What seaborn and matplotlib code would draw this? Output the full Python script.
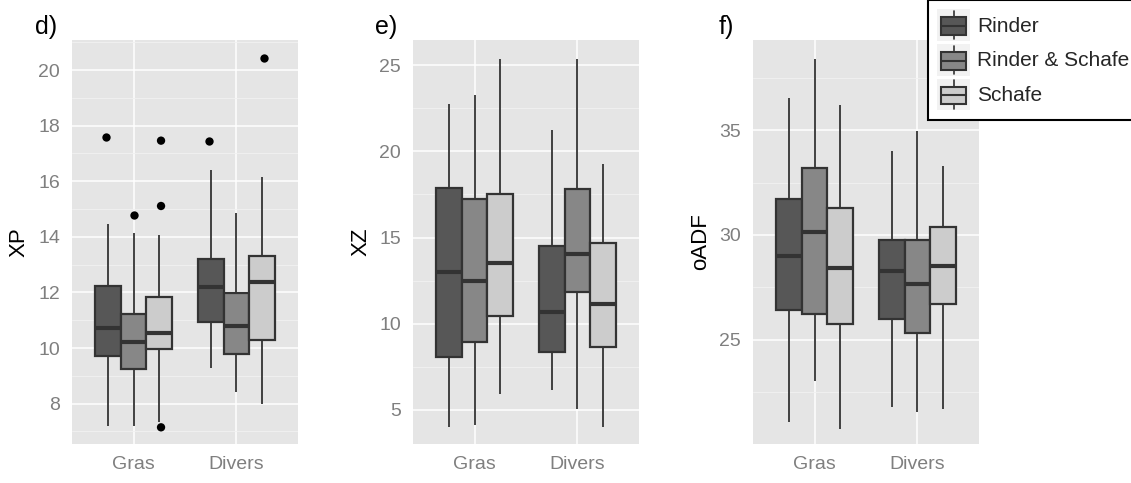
import numpy as np
import pandas as pd
import matplotlib
matplotlib.use('Agg')
import matplotlib.pyplot as plt
import seaborn as sns
from matplotlib.legend_handler import HandlerBase
from matplotlib.patches import Rectangle
from matplotlib.lines import Line2D
from matplotlib.ticker import MultipleLocator

futter = ['Gras', 'Divers']
tiere = ['Rinder', 'Rinder & Schafe', 'Schafe']
farben = ['#575757', '#878787', '#CCCCCC']

# five-number summaries (min, q1, median, q3, max), one per tier
xp_gras = [[7.21, 9.70, 10.71, 12.24, 14.45],
           [7.21, 9.25, 10.23, 11.24, 14.13],
           [7.35, 9.95, 10.54, 11.82, 14.07]]
xp_divers = [[9.27, 10.95, 12.18, 13.21, 16.40],
             [8.41, 9.79, 10.81, 11.97, 14.87],
             [7.98, 10.29, 12.38, 13.31, 16.15]]
xp_ausreisser_futter = ['Gras', 'Gras', 'Gras', 'Gras', 'Gras', 'Divers', 'Divers']
xp_ausreisser_tier = ['Rinder', 'Rinder & Schafe', 'Schafe', 'Schafe', 'Schafe', 'Rinder', 'Schafe']
xp_ausreisser_wert = [17.60, 14.80, 17.46, 15.11, 7.15, 17.43, 20.43]

xz_gras = [[4.00, 8.06, 12.97, 17.86, 22.76],
           [4.13, 8.93, 12.49, 17.22, 23.26],
           [5.91, 10.42, 13.51, 17.50, 25.37]]
xz_divers = [[6.16, 8.38, 10.69, 14.50, 21.25],
             [5.04, 11.83, 14.05, 17.80, 25.35],
             [4.00, 8.67, 11.13, 14.69, 19.27]]

adf_gras = [[21.09, 26.40, 28.99, 31.70, 36.56],
            [23.04, 26.21, 30.12, 33.21, 38.40],
            [20.76, 25.73, 28.40, 31.27, 36.23]]
adf_divers = [[21.81, 25.97, 28.27, 29.77, 34.03],
              [21.56, 25.33, 27.66, 29.75, 34.98],
              [21.71, 26.71, 28.51, 30.39, 33.29]]


def to_long(gras, divers):
    rows = []
    for f, stats in zip(futter, [gras, divers]):
        for t, werte in zip(tiere, stats):
            for w in werte:
                rows.append({'Futter': f, 'Tier': t, 'Wert': w})
    return pd.DataFrame(rows)


class BoxKey(HandlerBase):
    def create_artists(self, legend, orig_handle, xdescent, ydescent, width, height, fontsize, trans):
        x0, y0 = -xdescent, -ydescent
        bg = Rectangle((x0, y0), width, height, facecolor='#F2F2F2', edgecolor='none', transform=trans)
        cx, cy = x0 + width / 2, y0 + height * 0.47
        whisker = Line2D([cx, cx], [y0 + height * 0.05, y0 + height * 0.95], color='#333333', lw=1.2, transform=trans)
        box = Rectangle((x0 + width * 0.1, y0 + height * 0.19), width * 0.8, height * 0.56,
                        facecolor=orig_handle.get_facecolor(), edgecolor='#333333', lw=1.5, transform=trans)
        med = Line2D([x0 + width * 0.1, x0 + width * 0.9], [cy, cy], color='#333333', lw=1.5, transform=trans)
        return [bg, whisker, box, med]


sns.set_theme(style='darkgrid', rc={'axes.facecolor': '#E5E5E5', 'grid.color': 'white'})
plt.rcParams['font.family'] = ['Liberation Sans', 'DejaVu Sans']

panels = [
    ('d)', 'XP', to_long(xp_gras, xp_divers), (6.55, 21.08), 2, 1, 72),
    ('e)', 'XZ', to_long(xz_gras, xz_divers), (3.01, 26.47), 5, 2.5, 413),
    ('f)', 'oADF', to_long(adf_gras, adf_divers), (20.02, 39.31), 5, 2.5, 753),
]
label_x = [-0.164, -0.168, -0.150]

fig = plt.figure(figsize=(11.31, 4.83), dpi=100)
palette = dict(zip(tiere, farben))

for i, (tag, ylabel, df, ylim, major, minor, left) in enumerate(panels):
    ax = fig.add_axes([left / 1131, 39 / 483, 226 / 1131, 404 / 483])
    sns.boxplot(data=df, x='Futter', y='Wert', hue='Tier', order=futter, hue_order=tiere,
                palette=palette, saturation=1, width=0.75, gap=0, whis=(0, 100),
                linecolor='#333333', linewidth=1.3, showcaps=False, showfliers=False,
                boxprops={'linewidth': 1.6}, medianprops={'linewidth': 3},
                legend=False, ax=ax)
    if ylabel == 'XP':
        aus = pd.DataFrame({'Futter': xp_ausreisser_futter, 'Tier': xp_ausreisser_tier,
                            'Wert': xp_ausreisser_wert})
        sns.stripplot(data=aus, x='Futter', y='Wert', hue='Tier', order=futter, hue_order=tiere,
                      dodge=True, jitter=False, palette={t: 'black' for t in tiere},
                      size=6, linewidth=0, legend=False, ax=ax)

    ax.set_xlim(-0.6, 1.6)
    ax.set_ylim(*ylim)
    ax.yaxis.set_major_locator(MultipleLocator(major))
    ax.yaxis.set_minor_locator(MultipleLocator(minor))
    ax.set_axisbelow(True)
    ax.grid(which='major', axis='both', color='white', lw=1.1)
    ax.grid(which='minor', axis='y', color='#F2F2F2', lw=0.6)
    for s in ax.spines.values():
        s.set_visible(False)
    ax.tick_params(which='major', length=5.5, width=1, color='#7F7F7F',
                   labelcolor='#7F7F7F', labelsize=14, pad=3)
    ax.tick_params(which='minor', length=0)
    ax.set_xlabel('')
    ax.set_ylabel(ylabel, fontsize=16, color='black', labelpad=6)
    ax.text(label_x[i], 1.014, tag, transform=ax.transAxes, fontsize=18,
            ha='left', va='baseline', color='black')

handles = [Rectangle((0, 0), 1, 1, facecolor=c) for c in farben]
leg = fig.legend(handles, tiere, handler_map={Rectangle: BoxKey()},
                 loc='upper left', bbox_to_anchor=(928 / 1131, 1.0), fontsize=15,
                 frameon=True, fancybox=False, framealpha=1, edgecolor='black',
                 facecolor='white', handlelength=1.55, handleheight=1.95,
                 labelspacing=0.15, handletextpad=0.35, borderpad=0.45, borderaxespad=0)
leg.get_frame().set_linewidth(1.5)

fig.savefig('out.png', dpi=100)
